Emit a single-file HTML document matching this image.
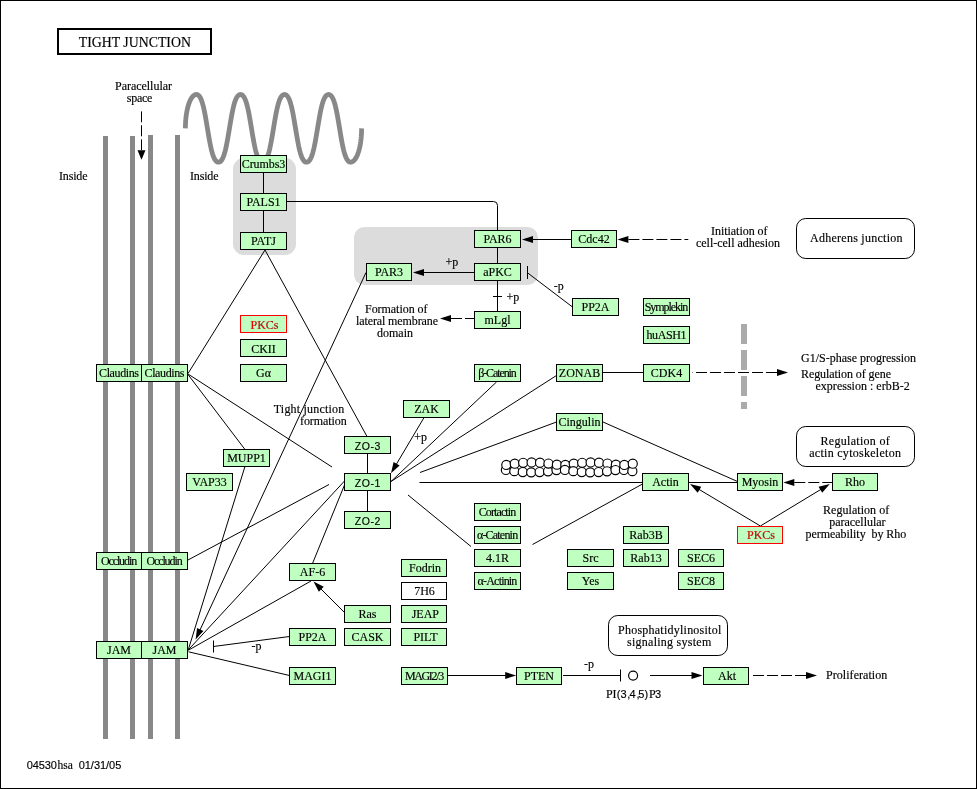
<!DOCTYPE html>
<html><head><meta charset="utf-8"><title>Tight junction</title>
<style>
html,body{margin:0;padding:0;background:#fff}
svg{display:block;will-change:transform}
text{white-space:pre;stroke:#000;stroke-width:.15px}
.s{font-family:"Liberation Serif",serif;font-size:12px}
.ss{font-family:"Liberation Sans",sans-serif;font-size:11px}
</style></head><body>
<svg width="977" height="789" viewBox="0 0 977 789">
<rect x="0.5" y="0.5" width="976" height="788" fill="#fff" stroke="#000"/>
<rect x="233" y="158" width="63" height="97" rx="11" fill="#dcdcdc"/>
<rect x="354" y="227" width="184" height="58" rx="10.5" fill="#dcdcdc"/>
<rect x="103" y="136" width="5" height="603" fill="#888888"/>
<rect x="130" y="136" width="5" height="603" fill="#888888"/>
<rect x="148" y="135" width="5" height="604" fill="#888888"/>
<rect x="175" y="135" width="5" height="604" fill="#888888"/>
<polyline points="185.40,128.35 185.43,125.69 185.54,123.05 185.70,120.45 185.94,117.89 186.24,115.40 186.60,112.98 187.02,110.66 187.50,108.45 188.04,106.37 188.63,104.41 189.26,102.61 189.94,100.96 190.66,99.49 191.41,98.19 192.20,97.08 193.01,96.16 193.84,95.44 194.69,94.92 195.55,94.60 196.41,94.50 197.05,94.58 197.70,94.82 198.34,95.23 198.98,95.82 199.62,96.62 200.27,97.65 200.91,98.94 201.55,100.51 202.19,102.38 202.84,104.57 203.48,107.09 204.12,109.93 204.76,113.08 205.41,116.49 206.05,120.12 206.69,123.91 207.33,127.79 207.98,131.68 208.62,135.51 209.26,139.19 209.90,142.67 210.55,145.90 211.19,148.83 211.83,151.44 212.47,153.73 213.11,155.69 213.76,157.35 214.40,158.71 215.04,159.81 215.68,160.67 216.33,161.32 216.97,161.78 217.61,162.07 218.25,162.19 218.90,162.16 219.54,161.97 220.18,161.61 220.82,161.07 221.47,160.33 222.11,159.37 222.75,158.16 223.39,156.67 224.04,154.89 224.68,152.79 225.32,150.36 225.96,147.61 226.61,144.55 227.25,141.21 227.89,137.63 228.53,133.88 229.17,130.02 229.82,126.12 230.46,122.27 231.10,118.54 231.74,115.00 232.39,111.69 233.03,108.68 233.67,105.97 234.31,103.59 234.96,101.54 235.60,99.80 236.24,98.35 236.88,97.18 237.53,96.25 238.17,95.54 238.81,95.03 239.45,94.69 240.10,94.53 240.74,94.51 241.38,94.66 242.02,94.97 242.67,95.46 243.31,96.14 243.95,97.03 244.59,98.17 245.23,99.57 245.88,101.27 246.52,103.28 247.16,105.61 247.80,108.27 248.45,111.24 249.09,114.51 249.73,118.02 250.37,121.73 251.02,125.57 251.66,129.46 252.30,133.33 252.94,137.11 253.59,140.71 254.23,144.09 254.87,147.19 255.51,149.99 256.16,152.46 256.80,154.61 257.44,156.44 258.08,157.96 258.72,159.21 259.37,160.21 260.01,160.98 260.65,161.54 261.29,161.93 261.94,162.14 262.58,162.20 263.22,162.10 263.86,161.84 264.51,161.40 265.15,160.78 265.79,159.95 266.43,158.88 267.08,157.56 267.72,155.95 268.36,154.03 269.00,151.79 269.65,149.22 270.29,146.34 270.93,143.15 271.57,139.70 272.22,136.04 272.86,132.24 273.50,128.35 274.14,124.46 274.78,120.66 275.43,117.00 276.07,113.55 276.71,110.36 277.35,107.48 278.00,104.91 278.64,102.67 279.28,100.75 279.92,99.14 280.57,97.82 281.21,96.75 281.85,95.92 282.49,95.30 283.14,94.86 283.78,94.60 284.42,94.50 285.06,94.56 285.71,94.77 286.35,95.16 286.99,95.72 287.63,96.49 288.28,97.49 288.92,98.74 289.56,100.26 290.20,102.09 290.84,104.24 291.49,106.71 292.13,109.51 292.77,112.61 293.41,115.99 294.06,119.59 294.70,123.37 295.34,127.24 295.98,131.13 296.63,134.97 297.27,138.68 297.91,142.19 298.55,145.46 299.20,148.43 299.84,151.09 300.48,153.42 301.12,155.43 301.77,157.13 302.41,158.53 303.05,159.67 303.69,160.56 304.34,161.24 304.98,161.73 305.62,162.04 306.26,162.19 306.90,162.17 307.55,162.01 308.19,161.67 308.83,161.16 309.47,160.45 310.12,159.52 310.76,158.35 311.40,156.90 312.04,155.16 312.69,153.11 313.33,150.73 313.97,148.02 314.61,145.01 315.26,141.70 315.90,138.16 316.54,134.43 317.18,130.58 317.83,126.68 318.47,122.82 319.11,119.07 319.75,115.49 320.39,112.15 321.04,109.09 321.68,106.34 322.32,103.91 322.96,101.81 323.61,100.03 324.25,98.54 324.89,97.33 325.53,96.37 326.18,95.63 326.82,95.09 327.46,94.73 328.10,94.54 328.75,94.51 329.39,94.63 330.03,94.92 330.67,95.38 331.32,96.03 331.96,96.89 332.60,97.99 333.24,99.35 333.89,101.01 334.53,102.97 335.17,105.26 335.81,107.87 336.45,110.80 337.10,114.03 337.74,117.51 338.38,121.19 339.02,125.02 339.67,128.91 340.31,132.79 340.95,136.58 341.59,140.21 342.24,143.62 342.88,146.77 343.52,149.61 344.16,152.13 344.81,154.32 345.45,156.19 346.09,157.76 346.73,159.05 347.38,160.08 348.02,160.88 348.66,161.47 349.30,161.88 349.95,162.12 350.59,162.20 351.45,162.10 352.31,161.78 353.16,161.26 353.99,160.54 354.80,159.62 355.59,158.51 356.34,157.21 357.06,155.74 357.74,154.09 358.37,152.29 358.96,150.33 359.50,148.25 359.98,146.04 360.40,143.72 360.76,141.30 361.06,138.81 361.30,136.25 361.46,133.65 361.57,131.01 361.60,128.35" fill="none" stroke="#888888" stroke-width="4.8" stroke-linejoin="round"/>
<line x1="744" y1="324" x2="744" y2="409" stroke="#aaaaaa" stroke-width="6" stroke-dasharray="20 6"/>
<rect x="58" y="29" width="153" height="25" fill="#fff" stroke="#000" stroke-width="2"/>
<rect x="796.5" y="218.5" width="118" height="40" rx="9.3" fill="#fff" stroke="#000"/>
<rect x="796.5" y="426.5" width="118" height="40" rx="9.3" fill="#fff" stroke="#000"/>
<rect x="608.5" y="615.5" width="119" height="40" rx="9.3" fill="#fff" stroke="#000"/>
<line x1="263.5" y1="165" x2="263.5" y2="240" stroke="#000" stroke-width="1"/>
<path d="M287 201.5 H493.5 Q497.5 201.5 497.5 205.5 V231" fill="none" stroke="#000"/>
<line x1="497.5" y1="240" x2="497.5" y2="312" stroke="#000" stroke-width="1"/>
<line x1="493" y1="296.5" x2="502" y2="296.5" stroke="#000" stroke-width="1"/>
<line x1="572" y1="239.5" x2="532.0" y2="239.5" stroke="#000" stroke-width="1"/>
<polygon points="522.00,239.50 533.00,236.00 533.00,243.00" fill="#000"/>
<line x1="474" y1="272.5" x2="423.0" y2="272.5" stroke="#000" stroke-width="1"/>
<polygon points="413.00,272.50 424.00,269.00 424.00,276.00" fill="#000"/>
<line x1="572.5" y1="307" x2="527.5" y2="272.8" stroke="#000" stroke-width="1"/>
<line x1="527.5" y1="266" x2="527.5" y2="279" stroke="#000" stroke-width="1"/>
<line x1="451.0" y1="318.5" x2="474" y2="318.5" stroke="#000" stroke-width="1" stroke-dasharray="11 3"/>
<polygon points="440.00,318.50 451.00,315.00 451.00,322.00" fill="#000"/>
<line x1="628.4" y1="239.5" x2="688.3" y2="239.5" stroke="#000" stroke-width="1" stroke-dasharray="11 3"/>
<polygon points="617.40,239.50 628.40,236.00 628.40,243.00" fill="#000"/>
<line x1="603" y1="372.5" x2="643" y2="372.5" stroke="#000" stroke-width="1"/>
<line x1="777.0" y1="372.5" x2="692.5" y2="372.5" stroke="#000" stroke-width="1" stroke-dasharray="11 3"/>
<polygon points="788.00,372.50 777.00,376.00 777.00,369.00" fill="#000"/>
<line x1="265" y1="250" x2="188" y2="373.5" stroke="#000" stroke-width="1"/>
<line x1="265" y1="250" x2="367" y2="436.5" stroke="#000" stroke-width="1"/>
<line x1="366" y1="272.5" x2="199.81" y2="630.43" stroke="#000" stroke-width="1"/>
<polygon points="195.60,639.50 197.06,628.05 203.41,631.00" fill="#000"/>
<line x1="188" y1="374" x2="332" y2="467" stroke="#000" stroke-width="1"/>
<line x1="188" y1="374.5" x2="245" y2="449.5" stroke="#000" stroke-width="1"/>
<line x1="244.8" y1="467" x2="188.5" y2="649" stroke="#000" stroke-width="1"/>
<line x1="367.5" y1="445" x2="367.5" y2="520" stroke="#000" stroke-width="1"/>
<line x1="423.75" y1="418" x2="396.1" y2="464.7" stroke="#000" stroke-width="1"/>
<polygon points="391.00,473.30 393.59,462.05 399.62,465.62" fill="#000"/>
<line x1="496.5" y1="382" x2="391" y2="481.5" stroke="#000" stroke-width="1"/>
<line x1="556.5" y1="375.5" x2="391" y2="481.5" stroke="#000" stroke-width="1"/>
<line x1="556.5" y1="422" x2="420" y2="472.5" stroke="#000" stroke-width="1"/>
<line x1="419.5" y1="482.5" x2="643" y2="482.5" stroke="#000" stroke-width="1"/>
<line x1="603" y1="422" x2="737.5" y2="481.5" stroke="#000" stroke-width="1"/>
<line x1="689" y1="482.5" x2="737" y2="482.5" stroke="#000" stroke-width="1"/>
<line x1="794.3" y1="482.5" x2="832" y2="482.5" stroke="#000" stroke-width="1" stroke-dasharray="11 3"/>
<polygon points="783.30,482.50 794.30,479.00 794.30,486.00" fill="#000"/>
<line x1="760.4" y1="526" x2="698.59" y2="489.13" stroke="#000" stroke-width="1"/>
<polygon points="690.00,484.00 701.24,486.63 697.65,492.64" fill="#000"/>
<line x1="760.4" y1="526" x2="821.25" y2="489.18" stroke="#000" stroke-width="1"/>
<polygon points="829.80,484.00 822.20,492.69 818.58,486.70" fill="#000"/>
<line x1="642.5" y1="484" x2="532.5" y2="544.5" stroke="#000" stroke-width="1"/>
<line x1="408" y1="495" x2="471" y2="546.5" stroke="#000" stroke-width="1"/>
<line x1="188" y1="560" x2="329" y2="484.5" stroke="#000" stroke-width="1"/>
<line x1="344.5" y1="481" x2="188.2" y2="650" stroke="#000" stroke-width="1"/>
<line x1="344.5" y1="485" x2="312.5" y2="563.5" stroke="#000" stroke-width="1"/>
<line x1="311" y1="581" x2="188.2" y2="650.3" stroke="#000" stroke-width="1"/>
<line x1="344.5" y1="612.5" x2="320.57" y2="588.57" stroke="#000" stroke-width="1"/>
<polygon points="313.50,581.50 323.75,586.80 318.80,591.75" fill="#000"/>
<line x1="289.5" y1="636.5" x2="213.5" y2="646.5" stroke="#000" stroke-width="1"/>
<line x1="213.5" y1="640.5" x2="213.5" y2="652.5" stroke="#000" stroke-width="1"/>
<line x1="289.5" y1="675.5" x2="188.5" y2="651.8" stroke="#000" stroke-width="1"/>
<line x1="448" y1="675.5" x2="506.2" y2="675.5" stroke="#000" stroke-width="1"/>
<polygon points="516.20,675.50 505.20,679.00 505.20,672.00" fill="#000"/>
<line x1="563" y1="675.5" x2="620.5" y2="675.5" stroke="#000" stroke-width="1"/>
<line x1="620.5" y1="669.5" x2="620.5" y2="681.5" stroke="#000" stroke-width="1"/>
<circle cx="633.1" cy="675.6" r="4.5" fill="#fff" stroke="#000" stroke-width="1.2"/>
<line x1="650" y1="675.5" x2="692.5" y2="675.5" stroke="#000" stroke-width="1"/>
<polygon points="702.50,675.50 691.50,679.00 691.50,672.00" fill="#000"/>
<line x1="806.0" y1="675.5" x2="752.5" y2="675.5" stroke="#000" stroke-width="1" stroke-dasharray="11 3"/>
<polygon points="817.00,675.50 806.00,679.00 806.00,672.00" fill="#000"/>
<line x1="141.5" y1="150.3" x2="141.5" y2="111.4" stroke="#000" stroke-width="1" stroke-dasharray="11 3"/>
<polygon points="141.50,159.80 137.50,150.30 145.50,150.30" fill="#000"/>
<circle cx="505.90" cy="469.90" r="4.55" fill="#fff" stroke="#000" stroke-width="1.15"/>
<circle cx="506.30" cy="464.90" r="4.55" fill="#fff" stroke="#000" stroke-width="1.15"/>
<circle cx="514.33" cy="471.14" r="4.55" fill="#fff" stroke="#000" stroke-width="1.15"/>
<circle cx="514.73" cy="463.66" r="4.55" fill="#fff" stroke="#000" stroke-width="1.15"/>
<circle cx="522.76" cy="472.01" r="4.55" fill="#fff" stroke="#000" stroke-width="1.15"/>
<circle cx="523.16" cy="462.79" r="4.55" fill="#fff" stroke="#000" stroke-width="1.15"/>
<circle cx="531.19" cy="472.35" r="4.55" fill="#fff" stroke="#000" stroke-width="1.15"/>
<circle cx="531.59" cy="462.45" r="4.55" fill="#fff" stroke="#000" stroke-width="1.15"/>
<circle cx="539.62" cy="472.08" r="4.55" fill="#fff" stroke="#000" stroke-width="1.15"/>
<circle cx="540.02" cy="462.72" r="4.55" fill="#fff" stroke="#000" stroke-width="1.15"/>
<circle cx="548.05" cy="471.27" r="4.55" fill="#fff" stroke="#000" stroke-width="1.15"/>
<circle cx="548.45" cy="463.53" r="4.55" fill="#fff" stroke="#000" stroke-width="1.15"/>
<circle cx="556.48" cy="470.06" r="4.55" fill="#fff" stroke="#000" stroke-width="1.15"/>
<circle cx="556.88" cy="464.74" r="4.55" fill="#fff" stroke="#000" stroke-width="1.15"/>
<circle cx="565.31" cy="464.90" r="4.55" fill="#fff" stroke="#000" stroke-width="1.15"/>
<circle cx="564.91" cy="469.90" r="4.55" fill="#fff" stroke="#000" stroke-width="1.15"/>
<circle cx="573.74" cy="463.66" r="4.55" fill="#fff" stroke="#000" stroke-width="1.15"/>
<circle cx="573.34" cy="471.14" r="4.55" fill="#fff" stroke="#000" stroke-width="1.15"/>
<circle cx="582.17" cy="462.79" r="4.55" fill="#fff" stroke="#000" stroke-width="1.15"/>
<circle cx="581.77" cy="472.01" r="4.55" fill="#fff" stroke="#000" stroke-width="1.15"/>
<circle cx="590.60" cy="462.45" r="4.55" fill="#fff" stroke="#000" stroke-width="1.15"/>
<circle cx="590.20" cy="472.35" r="4.55" fill="#fff" stroke="#000" stroke-width="1.15"/>
<circle cx="599.03" cy="462.72" r="4.55" fill="#fff" stroke="#000" stroke-width="1.15"/>
<circle cx="598.63" cy="472.08" r="4.55" fill="#fff" stroke="#000" stroke-width="1.15"/>
<circle cx="607.46" cy="463.54" r="4.55" fill="#fff" stroke="#000" stroke-width="1.15"/>
<circle cx="607.06" cy="471.26" r="4.55" fill="#fff" stroke="#000" stroke-width="1.15"/>
<circle cx="615.89" cy="464.74" r="4.55" fill="#fff" stroke="#000" stroke-width="1.15"/>
<circle cx="615.49" cy="470.06" r="4.55" fill="#fff" stroke="#000" stroke-width="1.15"/>
<circle cx="623.92" cy="469.90" r="4.55" fill="#fff" stroke="#000" stroke-width="1.15"/>
<circle cx="624.32" cy="464.90" r="4.55" fill="#fff" stroke="#000" stroke-width="1.15"/>
<circle cx="632.35" cy="471.14" r="4.55" fill="#fff" stroke="#000" stroke-width="1.15"/>
<circle cx="632.75" cy="463.66" r="4.55" fill="#fff" stroke="#000" stroke-width="1.15"/>
<rect x="240.5" y="155.5" width="46" height="17" fill="#bfffbf" stroke="#000"/>
<rect x="240.5" y="193.5" width="46" height="17" fill="#bfffbf" stroke="#000"/>
<rect x="240.5" y="232.5" width="46" height="17" fill="#bfffbf" stroke="#000"/>
<rect x="474.5" y="230.5" width="46" height="17" fill="#bfffbf" stroke="#000"/>
<rect x="474.5" y="263.5" width="46" height="17" fill="#bfffbf" stroke="#000"/>
<rect x="366.5" y="263.5" width="45" height="17" fill="#bfffbf" stroke="#000"/>
<rect x="571.5" y="230.5" width="45" height="17" fill="#bfffbf" stroke="#000"/>
<rect x="474.5" y="311.5" width="46" height="17" fill="#bfffbf" stroke="#000"/>
<rect x="572.5" y="298.5" width="46" height="17" fill="#bfffbf" stroke="#000"/>
<rect x="643.5" y="298.5" width="46" height="17" fill="#bfffbf" stroke="#000"/>
<rect x="643.5" y="326.5" width="46" height="17" fill="#bfffbf" stroke="#000"/>
<rect x="240.5" y="315.5" width="46" height="17" fill="#bfffbf" stroke="#f00"/>
<rect x="240.5" y="339.5" width="46" height="17" fill="#bfffbf" stroke="#000"/>
<rect x="240.5" y="364.5" width="46" height="17" fill="#bfffbf" stroke="#000"/>
<rect x="96.5" y="364.5" width="45" height="17" fill="#bfffbf" stroke="#000"/>
<rect x="141.5" y="364.5" width="46" height="17" fill="#bfffbf" stroke="#000"/>
<rect x="474.5" y="364.5" width="46" height="17" fill="#bfffbf" stroke="#000"/>
<rect x="556.5" y="364.5" width="46" height="17" fill="#bfffbf" stroke="#000"/>
<rect x="643.5" y="364.5" width="46" height="17" fill="#bfffbf" stroke="#000"/>
<rect x="403.5" y="400.5" width="46" height="17" fill="#bfffbf" stroke="#000"/>
<rect x="556.5" y="413.5" width="46" height="17" fill="#bfffbf" stroke="#000"/>
<rect x="344.5" y="436.5" width="46" height="17" fill="#bfffbf" stroke="#000"/>
<rect x="344.5" y="473.5" width="46" height="17" fill="#bfffbf" stroke="#000"/>
<rect x="344.5" y="511.5" width="46" height="17" fill="#bfffbf" stroke="#000"/>
<rect x="223.5" y="449.5" width="46" height="17" fill="#bfffbf" stroke="#000"/>
<rect x="186.5" y="473.5" width="46" height="17" fill="#bfffbf" stroke="#000"/>
<rect x="642.5" y="473.5" width="46" height="17" fill="#bfffbf" stroke="#000"/>
<rect x="737.5" y="473.5" width="45" height="17" fill="#bfffbf" stroke="#000"/>
<rect x="832.5" y="473.5" width="45" height="17" fill="#bfffbf" stroke="#000"/>
<rect x="737.5" y="526.5" width="45" height="17" fill="#bfffbf" stroke="#f00"/>
<rect x="474.5" y="503.5" width="46" height="17" fill="#bfffbf" stroke="#000"/>
<rect x="474.5" y="526.5" width="46" height="17" fill="#bfffbf" stroke="#000"/>
<rect x="474.5" y="549.5" width="46" height="17" fill="#bfffbf" stroke="#000"/>
<rect x="474.5" y="572.5" width="46" height="17" fill="#bfffbf" stroke="#000"/>
<rect x="567.5" y="549.5" width="46" height="17" fill="#bfffbf" stroke="#000"/>
<rect x="567.5" y="572.5" width="46" height="17" fill="#bfffbf" stroke="#000"/>
<rect x="623.5" y="526.5" width="45" height="17" fill="#bfffbf" stroke="#000"/>
<rect x="623.5" y="549.5" width="45" height="17" fill="#bfffbf" stroke="#000"/>
<rect x="678.5" y="549.5" width="45" height="17" fill="#bfffbf" stroke="#000"/>
<rect x="678.5" y="572.5" width="45" height="17" fill="#bfffbf" stroke="#000"/>
<rect x="96.5" y="552.5" width="45" height="17" fill="#bfffbf" stroke="#000"/>
<rect x="141.5" y="552.5" width="46" height="17" fill="#bfffbf" stroke="#000"/>
<rect x="289.5" y="563.5" width="46" height="17" fill="#bfffbf" stroke="#000"/>
<rect x="401.5" y="559.5" width="45" height="17" fill="#bfffbf" stroke="#000"/>
<rect x="401.5" y="582.5" width="45" height="17" fill="#fff" stroke="#000"/>
<rect x="401.5" y="605.5" width="45" height="17" fill="#bfffbf" stroke="#000"/>
<rect x="401.5" y="628.5" width="45" height="17" fill="#bfffbf" stroke="#000"/>
<rect x="344.5" y="605.5" width="46" height="17" fill="#bfffbf" stroke="#000"/>
<rect x="344.5" y="628.5" width="46" height="17" fill="#bfffbf" stroke="#000"/>
<rect x="289.5" y="628.5" width="46" height="17" fill="#bfffbf" stroke="#000"/>
<rect x="96.5" y="641.5" width="45" height="17" fill="#bfffbf" stroke="#000"/>
<rect x="141.5" y="641.5" width="46" height="17" fill="#bfffbf" stroke="#000"/>
<rect x="289.5" y="667.5" width="46" height="17" fill="#bfffbf" stroke="#000"/>
<rect x="401.5" y="667.5" width="46" height="17" fill="#bfffbf" stroke="#000"/>
<rect x="516.5" y="667.5" width="45" height="17" fill="#bfffbf" stroke="#000"/>
<rect x="703.5" y="667.5" width="45" height="17" fill="#bfffbf" stroke="#000"/>
<g>
<text class="s" x="78.7" y="46.8" textLength="112.2" lengthAdjust="spacingAndGlyphs" style="font-size:15px">TIGHT JUNCTION</text>
<text class="s" x="241.75" y="168.2" textLength="43.5" lengthAdjust="spacing">Crumbs3</text>
<text class="s" x="263.5" y="206.2" text-anchor="middle">PALS1</text>
<text class="s" x="263.5" y="245.2" text-anchor="middle">PATJ</text>
<text class="s" x="497.5" y="243.2" text-anchor="middle">PAR6</text>
<text class="s" x="497.5" y="276.2" text-anchor="middle">aPKC</text>
<text class="s" x="389.0" y="276.2" text-anchor="middle">PAR3</text>
<text class="s" x="594.0" y="243.2" text-anchor="middle">Cdc42</text>
<text class="s" x="497.5" y="324.2" text-anchor="middle">mLgl</text>
<text class="s" x="595.5" y="311.2" text-anchor="middle">PP2A</text>
<text class="s" x="644.75" y="311.2" textLength="43.5" lengthAdjust="spacing">Symplekin</text>
<text class="s" x="646.5" y="339.2" textLength="40" lengthAdjust="spacing">huASH1</text>
<text class="s" x="264.5" y="328.7" text-anchor="middle" fill="#f00" stroke="#f00">PKCs</text>
<text class="s" x="263.5" y="352.59999999999997" text-anchor="middle">CKII</text>
<text class="s" x="263.5" y="377.2" text-anchor="middle">Gα</text>
<text class="s" x="99.0" y="377.2" textLength="40" lengthAdjust="spacing">Claudins</text>
<text class="s" x="144.5" y="377.2" textLength="40" lengthAdjust="spacing">Claudins</text>
<text class="s" x="478.25" y="377.2" textLength="38.5" lengthAdjust="spacing">β-Catenin</text>
<text class="s" x="579.5" y="377.2" text-anchor="middle">ZONAB</text>
<text class="s" x="666.5" y="377.2" text-anchor="middle">CDK4</text>
<text class="s" x="426.5" y="413.2" text-anchor="middle">ZAK</text>
<text class="s" x="579.5" y="426.2" text-anchor="middle">Cingulin</text>
<text class="ss" x="354.7" y="449.7" textLength="25.6" lengthAdjust="spacing" style="font-size:10.5px">ZO-3</text>
<text class="ss" x="354.7" y="486.7" textLength="25.6" lengthAdjust="spacing" style="font-size:10.5px">ZO-1</text>
<text class="ss" x="354.7" y="524.7" textLength="25.6" lengthAdjust="spacing" style="font-size:10.5px">ZO-2</text>
<text class="s" x="246.5" y="462.2" text-anchor="middle">MUPP1</text>
<text class="s" x="209.5" y="486.2" text-anchor="middle">VAP33</text>
<text class="s" x="665.5" y="486.2" text-anchor="middle">Actin</text>
<text class="s" x="760.0" y="486.2" text-anchor="middle">Myosin</text>
<text class="s" x="855.0" y="486.2" text-anchor="middle">Rho</text>
<text class="s" x="761.0" y="539.2" text-anchor="middle" fill="#f00" stroke="#f00">PKCs</text>
<text class="s" x="478.75" y="516.2" textLength="37.5" lengthAdjust="spacing">Cortactin</text>
<text class="s" x="476.88" y="539.2" textLength="41.25" lengthAdjust="spacing">α-Catenin</text>
<text class="s" x="497.5" y="562.2" text-anchor="middle">4.1R</text>
<text class="s" x="477.62" y="585.2" textLength="39.75" lengthAdjust="spacing">α-Actinin</text>
<text class="s" x="590.5" y="562.2" text-anchor="middle">Src</text>
<text class="s" x="590.5" y="585.2" text-anchor="middle">Yes</text>
<text class="s" x="646.0" y="539.2" text-anchor="middle">Rab3B</text>
<text class="s" x="646.0" y="562.2" text-anchor="middle">Rab13</text>
<text class="s" x="701.0" y="562.2" text-anchor="middle">SEC6</text>
<text class="s" x="701.0" y="585.2" text-anchor="middle">SEC8</text>
<text class="s" x="100.88" y="565.2" textLength="36.25" lengthAdjust="spacing">Occludin</text>
<text class="s" x="146.38" y="565.2" textLength="36.25" lengthAdjust="spacing">Occludin</text>
<text class="s" x="312.5" y="576.2" text-anchor="middle">AF-6</text>
<text class="s" x="425.0" y="572.2" text-anchor="middle">Fodrin</text>
<text class="s" x="424.5" y="595.2" text-anchor="middle">7H6</text>
<text class="s" x="425.3" y="618.2" text-anchor="middle">JEAP</text>
<text class="s" x="425.5" y="641.2" text-anchor="middle">PILT</text>
<text class="s" x="367.5" y="618.2" text-anchor="middle">Ras</text>
<text class="s" x="367.5" y="641.2" text-anchor="middle">CASK</text>
<text class="s" x="312.5" y="641.2" text-anchor="middle">PP2A</text>
<text class="s" x="119.0" y="654.2" text-anchor="middle">JAM</text>
<text class="s" x="164.5" y="654.2" text-anchor="middle">JAM</text>
<text class="s" x="312.5" y="680.2" text-anchor="middle">MAGI1</text>
<text class="s" x="404.88" y="680.2" textLength="39.25" lengthAdjust="spacing">MAGI2/3</text>
<text class="s" x="539.0" y="680.2" text-anchor="middle">PTEN</text>
<text class="s" x="727.0" y="680.2" text-anchor="middle">Akt</text>
<text class="s" x="115" y="90" textLength="57" lengthAdjust="spacing">Paracellular</text>
<text class="s" x="126.8" y="101.5" textLength="25.5" lengthAdjust="spacing">space</text>
<text class="s" x="59" y="180" textLength="28.5" lengthAdjust="spacing">Inside</text>
<text class="s" x="190" y="180" textLength="28.5" lengthAdjust="spacing">Inside</text>
<text class="s" x="445.5" y="265.5">+p</text>
<text class="s" x="553.75" y="290">-p</text>
<text class="s" x="506.4" y="301.4">+p</text>
<text class="s" x="365" y="312.5" textLength="62.5" lengthAdjust="spacing">Formation of</text>
<text class="s" x="356" y="324.5" textLength="82" lengthAdjust="spacing">lateral membrane</text>
<text class="s" x="377" y="336.5" textLength="36" lengthAdjust="spacing">domain</text>
<text class="s" x="711" y="235" textLength="56.5" lengthAdjust="spacing">Initiation of</text>
<text class="s" x="696" y="247" textLength="84" lengthAdjust="spacing">cell-cell adhesion</text>
<text class="s" x="810" y="242" textLength="92.5" lengthAdjust="spacing">Adherens junction</text>
<text class="s" x="801" y="362" textLength="115" lengthAdjust="spacing">G1/S-phase progression</text>
<text class="s" x="801" y="377.5" textLength="90" lengthAdjust="spacing">Regulation of gene</text>
<text class="s" x="815.5" y="389.5" textLength="94.25" lengthAdjust="spacing">expression : erbB-2</text>
<text class="s" x="820.5" y="445" textLength="69.25" lengthAdjust="spacing">Regulation of</text>
<text class="s" x="809.25" y="457" textLength="91.75" lengthAdjust="spacing">actin cytoskeleton</text>
<text class="s" x="823" y="514" textLength="66.25" lengthAdjust="spacing">Regulation of</text>
<text class="s" x="829.25" y="526" textLength="56.25" lengthAdjust="spacing">paracellular</text>
<text class="s" x="805.5" y="538" textLength="100.75" lengthAdjust="spacing">permeability  by Rho</text>
<text class="s" x="273.75" y="412.5" textLength="70.5" lengthAdjust="spacing">Tight junction</text>
<text class="s" x="300" y="425" textLength="46.75" lengthAdjust="spacing">formation</text>
<text class="s" x="414.3" y="441">+p</text>
<text class="s" x="251.6" y="650.4">-p</text>
<text class="s" x="584" y="668">-p</text>
<text y="697.6"><tspan class="s" x="605.9">PI</tspan><tspan class="ss" x="616.8">(</tspan><tspan class="ss" x="620.4">3</tspan><tspan class="ss" x="627.3">,</tspan><tspan class="ss" x="629.6">4</tspan><tspan class="ss" x="636.6">,</tspan><tspan class="ss" x="638.3">5</tspan><tspan class="ss" x="644.6">)</tspan><tspan class="s" x="648.9">P</tspan><tspan class="ss" x="655">3</tspan></text>
<text class="s" x="618" y="634" textLength="103.25" lengthAdjust="spacing">Phosphatidylinositol</text>
<text class="s" x="627" y="645.75" textLength="84.25" lengthAdjust="spacing">signaling system</text>
<text class="s" x="826" y="679" textLength="61.25" lengthAdjust="spacing">Proliferation</text>
<text class="ss" x="26.75" y="769" textLength="30" lengthAdjust="spacing">04530</text>
<text class="s" x="57.6" y="769" textLength="15.2" lengthAdjust="spacing" style="font-size:11.5px">hsa</text>
<text class="ss" x="78.7" y="769" textLength="42.6" lengthAdjust="spacing">01/31/05</text>
</g>
</svg>
</body></html>
